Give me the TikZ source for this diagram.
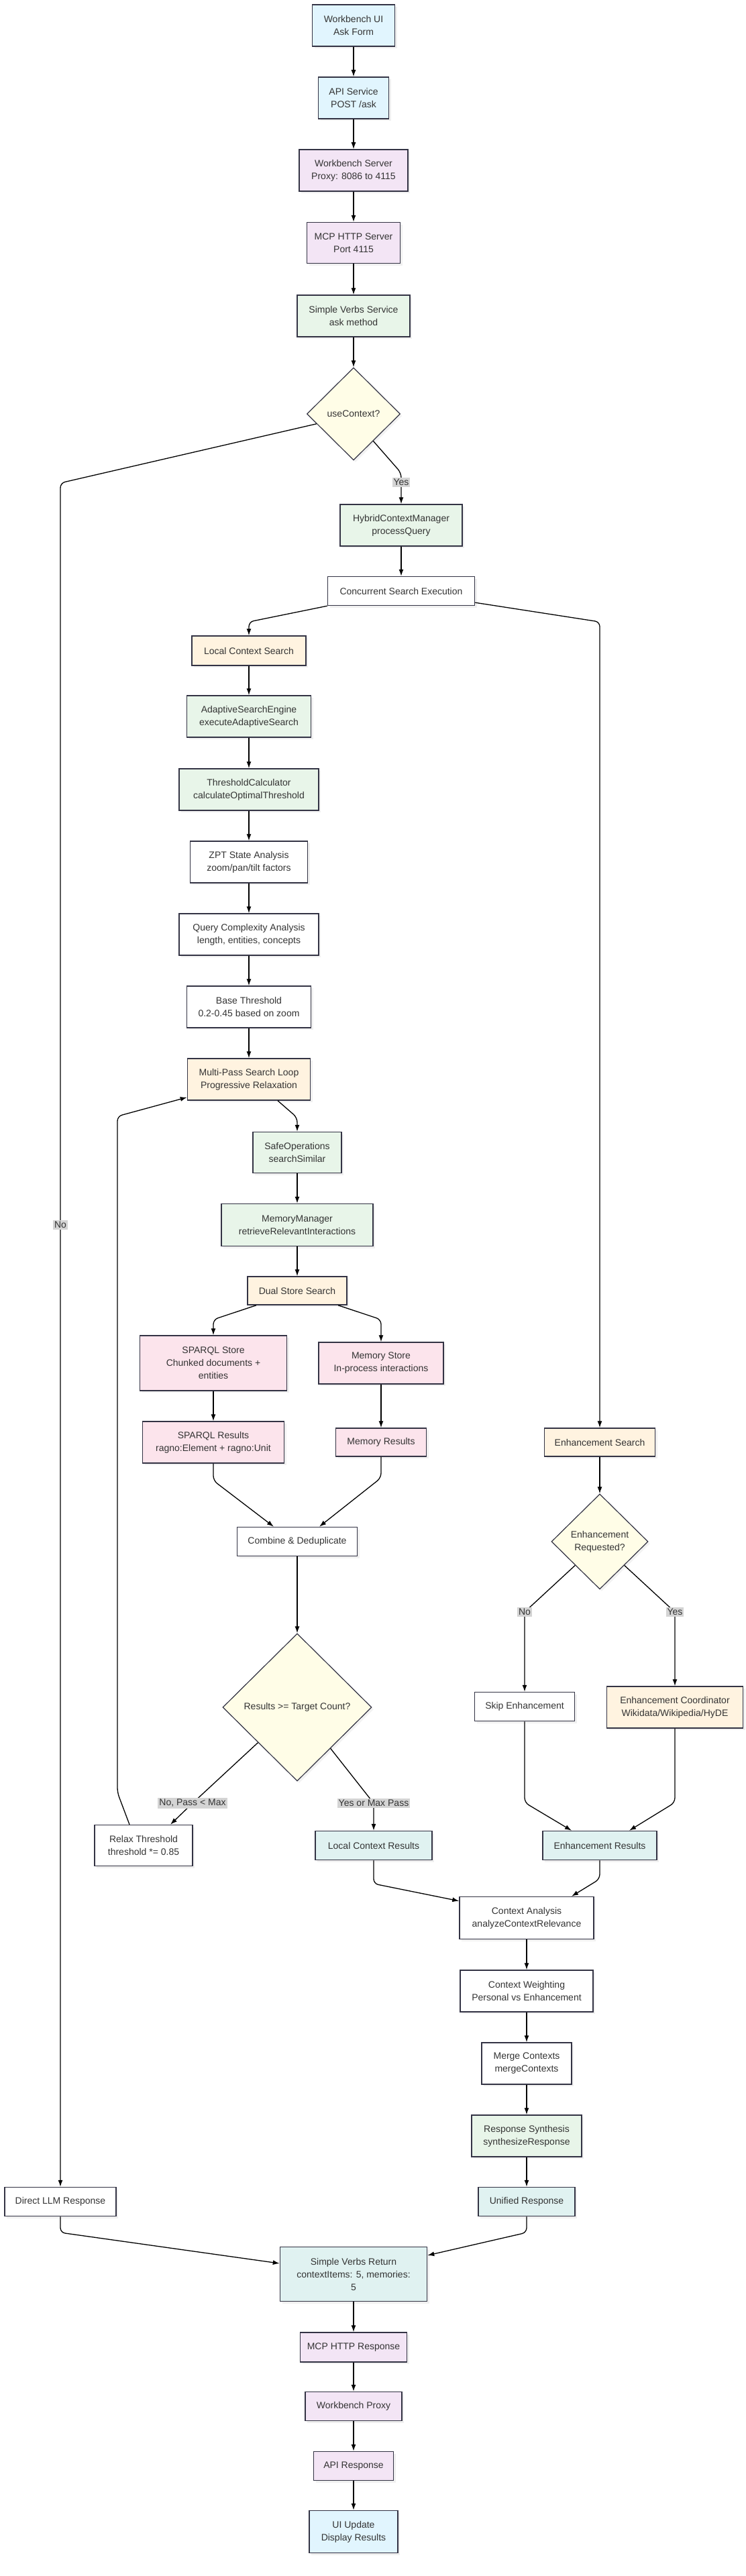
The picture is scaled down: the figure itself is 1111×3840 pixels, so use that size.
\documentclass[tikz,border=0pt]{standalone}
\usepackage{fontspec}
\setmainfont{Liberation Sans}
\usetikzlibrary{shapes.geometric,arrows.meta,shadows}
\definecolor{cblue}{HTML}{E1F5FE}
\definecolor{cpurp}{HTML}{F3E5F5}
\definecolor{cgreen}{HTML}{E8F5E9}
\definecolor{corange}{HTML}{FFF3E0}
\definecolor{cpink}{HTML}{FCE4EC}
\definecolor{cteal}{HTML}{E0F2F1}
\definecolor{cyell}{HTML}{FFFDE7}
\definecolor{cstroke}{HTML}{333344}
\definecolor{clab}{HTML}{D4D4D4}
\definecolor{ctext}{HTML}{333333}
\tikzset{
  box/.style={draw=cstroke, line width=1.5pt, fill=white, align=center, inner sep=2pt,
    text=ctext, font=\fontsize{14}{19}\selectfont,
    drop shadow={opacity=0.12, shadow xshift=3pt, shadow yshift=-3pt}},
  dia/.style={diamond, draw=cstroke, line width=1.2pt, fill=cyell, align=center, inner sep=1pt,
    text=ctext, font=\fontsize{14}{19}\selectfont,
    drop shadow={opacity=0.10, shadow xshift=3pt, shadow yshift=-3pt}},
  arr/.style={draw=black, line width=1.3pt, rounded corners=7pt, -{Latex[length=10pt,width=7pt]}},
  elab/.style={fill=clab, inner sep=2pt, text=ctext, font=\fontsize{14}{17}\selectfont},
}
\begin{document}
\begin{tikzpicture}[x=1pt,y=-1pt]
\useasboundingbox (0,0) rectangle (1111,3840);
% top chain
\node[box, fill=cblue, minimum width=123pt, minimum height=62pt] (ui) at (527,38) {Workbench UI\\Ask Form};
\node[box, fill=cblue, minimum width=105pt, minimum height=62pt] (api) at (527,146) {API Service\\POST /ask};
\node[box, fill=cpurp, minimum width=162pt, minimum height=62pt] (wbs) at (527,254) {Workbench Server\\Proxy: 8086 to 4115};
\node[box, fill=cpurp, minimum width=139pt, minimum height=61pt] (mcp) at (527,362) {MCP HTTP Server\\Port 4115};
\node[box, fill=cgreen, minimum width=168pt, minimum height=62pt] (svs) at (527,471) {Simple Verbs Service\\ask method};
\node[dia, minimum width=139pt, minimum height=138pt] (dec1) at (527,617) {useContext?};
\node[box, fill=cgreen, minimum width=182pt, minimum height=62pt] (hcm) at (598,783) {HybridContextManager\\processQuery};
\node[box, minimum width=219pt, minimum height=43pt] (conc) at (598,881) {Concurrent Search Execution};
% local branch
\node[box, fill=corange, minimum width=170pt, minimum height=44pt] (lcs) at (371,970) {Local Context Search};
\node[box, fill=cgreen, minimum width=185pt, minimum height=62pt] (ase) at (371,1068) {AdaptiveSearchEngine\\executeAdaptiveSearch};
\node[box, fill=cgreen, minimum width=208pt, minimum height=62pt] (thc) at (371,1177) {ThresholdCalculator\\calculateOptimalThreshold};
\node[box, minimum width=175pt, minimum height=62pt] (zpt) at (371,1285) {ZPT State Analysis\\zoom/pan/tilt factors};
\node[box, minimum width=208pt, minimum height=62pt] (qca) at (371,1393) {Query Complexity Analysis\\length, entities, concepts};
\node[box, minimum width=185pt, minimum height=62pt] (bth) at (371,1501) {Base Threshold\\0.2-0.45 based on zoom};
\node[box, fill=corange, minimum width=183pt, minimum height=62pt] (mps) at (371,1609) {Multi-Pass Search Loop\\Progressive Relaxation};
\node[box, fill=cgreen, minimum width=132pt, minimum height=61pt] (safe) at (443,1718) {SafeOperations\\searchSimilar};
\node[box, fill=cgreen, minimum width=226pt, minimum height=63pt] (memm) at (443,1826) {MemoryManager\\retrieveRelevantInteractions};
\node[box, fill=corange, minimum width=148pt, minimum height=42pt] (dss) at (443,1924) {Dual Store Search};
\node[box, fill=cpink, minimum width=219pt, minimum height=82pt] (sps) at (318,2032) {SPARQL Store\\Chunked documents +\\entities};
\node[box, fill=cpink, minimum width=186pt, minimum height=62pt] (mems) at (568,2032) {Memory Store\\In-process interactions};
\node[box, fill=cpink, minimum width=211pt, minimum height=62pt] (spr) at (318,2150) {SPARQL Results\\ragno:Element + ragno:Unit};
\node[box, fill=cpink, minimum width=135pt, minimum height=42pt] (memr) at (568,2150) {Memory Results};
\node[box, minimum width=179pt, minimum height=43pt] (comb) at (443,2298) {Combine \& Deduplicate};
\node[dia, minimum width=222pt, minimum height=220pt] (dec2) at (443,2545) {Results >= Target Count?};
\node[box, minimum width=146pt, minimum height=61pt] (relax) at (214,2751) {Relax Threshold\\threshold *= 0.85};
\node[box, fill=cteal, minimum width=174pt, minimum height=43pt] (lcr) at (557,2751) {Local Context Results};
% enhancement branch
\node[box, fill=corange, minimum width=165pt, minimum height=42pt] (ens) at (894,2150) {Enhancement Search};
\node[dia, minimum width=144pt, minimum height=142pt] (dec3) at (894,2298) {Enhancement\\Requested?};
\node[box, minimum width=149pt, minimum height=43pt] (skip) at (782,2544) {Skip Enhancement};
\node[box, fill=corange, minimum width=203pt, minimum height=62pt] (enc) at (1006,2545) {Enhancement Coordinator\\Wikidata/Wikipedia/HyDE};
\node[box, fill=cteal, minimum width=170pt, minimum height=43pt] (enr) at (894,2751) {Enhancement Results};
% merge chain
\node[box, minimum width=200pt, minimum height=63pt] (ca) at (785,2859) {Context Analysis\\analyzeContextRelevance};
\node[box, minimum width=198pt, minimum height=62pt] (cw) at (785,2968) {Context Weighting\\Personal vs Enhancement};
\node[box, minimum width=134pt, minimum height=62pt] (mc) at (785,3076) {Merge Contexts\\mergeContexts};
\node[box, fill=cgreen, minimum width=164pt, minimum height=62pt] (rs) at (785,3184) {Response Synthesis\\synthesizeResponse};
\node[box, fill=cteal, minimum width=144pt, minimum height=43pt] (ur) at (785,3282) {Unified Response};
\node[box, minimum width=166pt, minimum height=43pt] (dllm) at (90,3282) {Direct LLM Response};
% bottom chain
\node[box, fill=cteal, minimum width=219pt, minimum height=81pt] (svr) at (527,3390) {Simple Verbs Return\\contextItems: 5, memories:\\5};
\node[box, fill=cpurp, minimum width=159pt, minimum height=44pt] (mcpr) at (527,3499) {MCP HTTP Response};
\node[box, fill=cpurp, minimum width=144pt, minimum height=43pt] (wbp) at (527,3587) {Workbench Proxy};
\node[box, fill=cpurp, minimum width=119pt, minimum height=43pt] (apir) at (527,3676) {API Response};
\node[box, fill=cblue, minimum width=132pt, minimum height=63pt] (uiu) at (527,3774) {UI Update\\Display Results};

% edges
\draw[arr] (ui) -- (api);
\draw[arr] (api) -- (wbs);
\draw[arr] (wbs) -- (mcp);
\draw[arr] (mcp) -- (svs);
\draw[arr] (svs) -- (dec1);
\draw[arr] (dec1.-54) -- (598,705) -- (hcm.north);
\draw[arr] (dec1.195) -- (90,720) -- (dllm.north);
\draw[arr] (hcm) -- (conc);
\draw[arr] (conc.south west) -- (371,927) -- (lcs.north);
\draw[arr] ([yshift=5pt]conc.south east) -- (894,927) -- (ens.north);
\draw[arr] (lcs) -- (ase);
\draw[arr] (ase) -- (thc);
\draw[arr] (thc) -- (zpt);
\draw[arr] (zpt) -- (qca);
\draw[arr] (qca) -- (bth);
\draw[arr] (bth) -- (mps);
\draw[arr] ([xshift=43pt]mps.south) -- (443,1666) -- (safe.north);
\draw[arr] (safe) -- (memm);
\draw[arr] (memm) -- (dss);
\draw[arr] ([xshift=-61pt]dss.south) -- (318,1967) -- (sps.north);
\draw[arr] ([xshift=61pt]dss.south) -- (568,1967) -- (mems.north);
\draw[arr] (sps) -- (spr);
\draw[arr] (mems) -- (memr);
\draw[arr] (spr.south) -- (318,2207) -- ([xshift=-35pt]comb.north);
\draw[arr] (memr.south) -- (568,2203) -- ([xshift=33pt]comb.north);
\draw[arr] (comb) -- (dec2);
\draw[arr] (dec2.222) -- (287,2688) -- ([xshift=40pt]relax.north);
\draw[arr] (dec2.-51) -- (557,2688) -- (lcr.north);
\draw[arr] ([xshift=-21pt]relax.north) -- (175,2672) -- (175,1664) -- ([yshift=5pt]mps.south west);
\draw[arr] (ens) -- (dec3);
\draw[arr] (dec3.224) -- (782,2403) -- (skip.north);
\draw[arr] (dec3.-44) -- (1006,2403) -- (enc.north);
\draw[arr] (skip.south) -- (782,2687) -- ([xshift=-42pt]enr.north);
\draw[arr] (enc.south) -- (1006,2687) -- ([xshift=44pt]enr.north);
\draw[arr] (lcr.south) -- (557,2808) -- ([yshift=-7pt]ca.north west);
\draw[arr] (enr.south) -- (894,2801) -- ([xshift=67pt]ca.north);
\draw[arr] (ca) -- (cw);
\draw[arr] (cw) -- (mc);
\draw[arr] (mc) -- (rs);
\draw[arr] (rs) -- (ur);
\draw[arr] (dllm.south) -- (90,3328) -- ([yshift=16pt]svr.west);
\draw[arr] (ur.south) -- (785,3328) -- ([yshift=28pt]svr.east);
\draw[arr] (svr) -- (mcpr);
\draw[arr] (mcpr) -- (wbp);
\draw[arr] (wbp) -- (apir);
\draw[arr] (apir) -- (uiu);

% edge labels
\node[elab] (lyes1) at (598,719) {Yes};
\node[elab] (lno1) at (90,1826) {No};
\node[elab] (lno2) at (287,2688) {No, Pass < Max};
\node[elab] (lyes2) at (557,2688) {Yes or Max Pass};
\node[elab] (lno3) at (782,2403) {No};
\node[elab] (lyes3) at (1006,2403) {Yes};
\end{tikzpicture}
\end{document}
